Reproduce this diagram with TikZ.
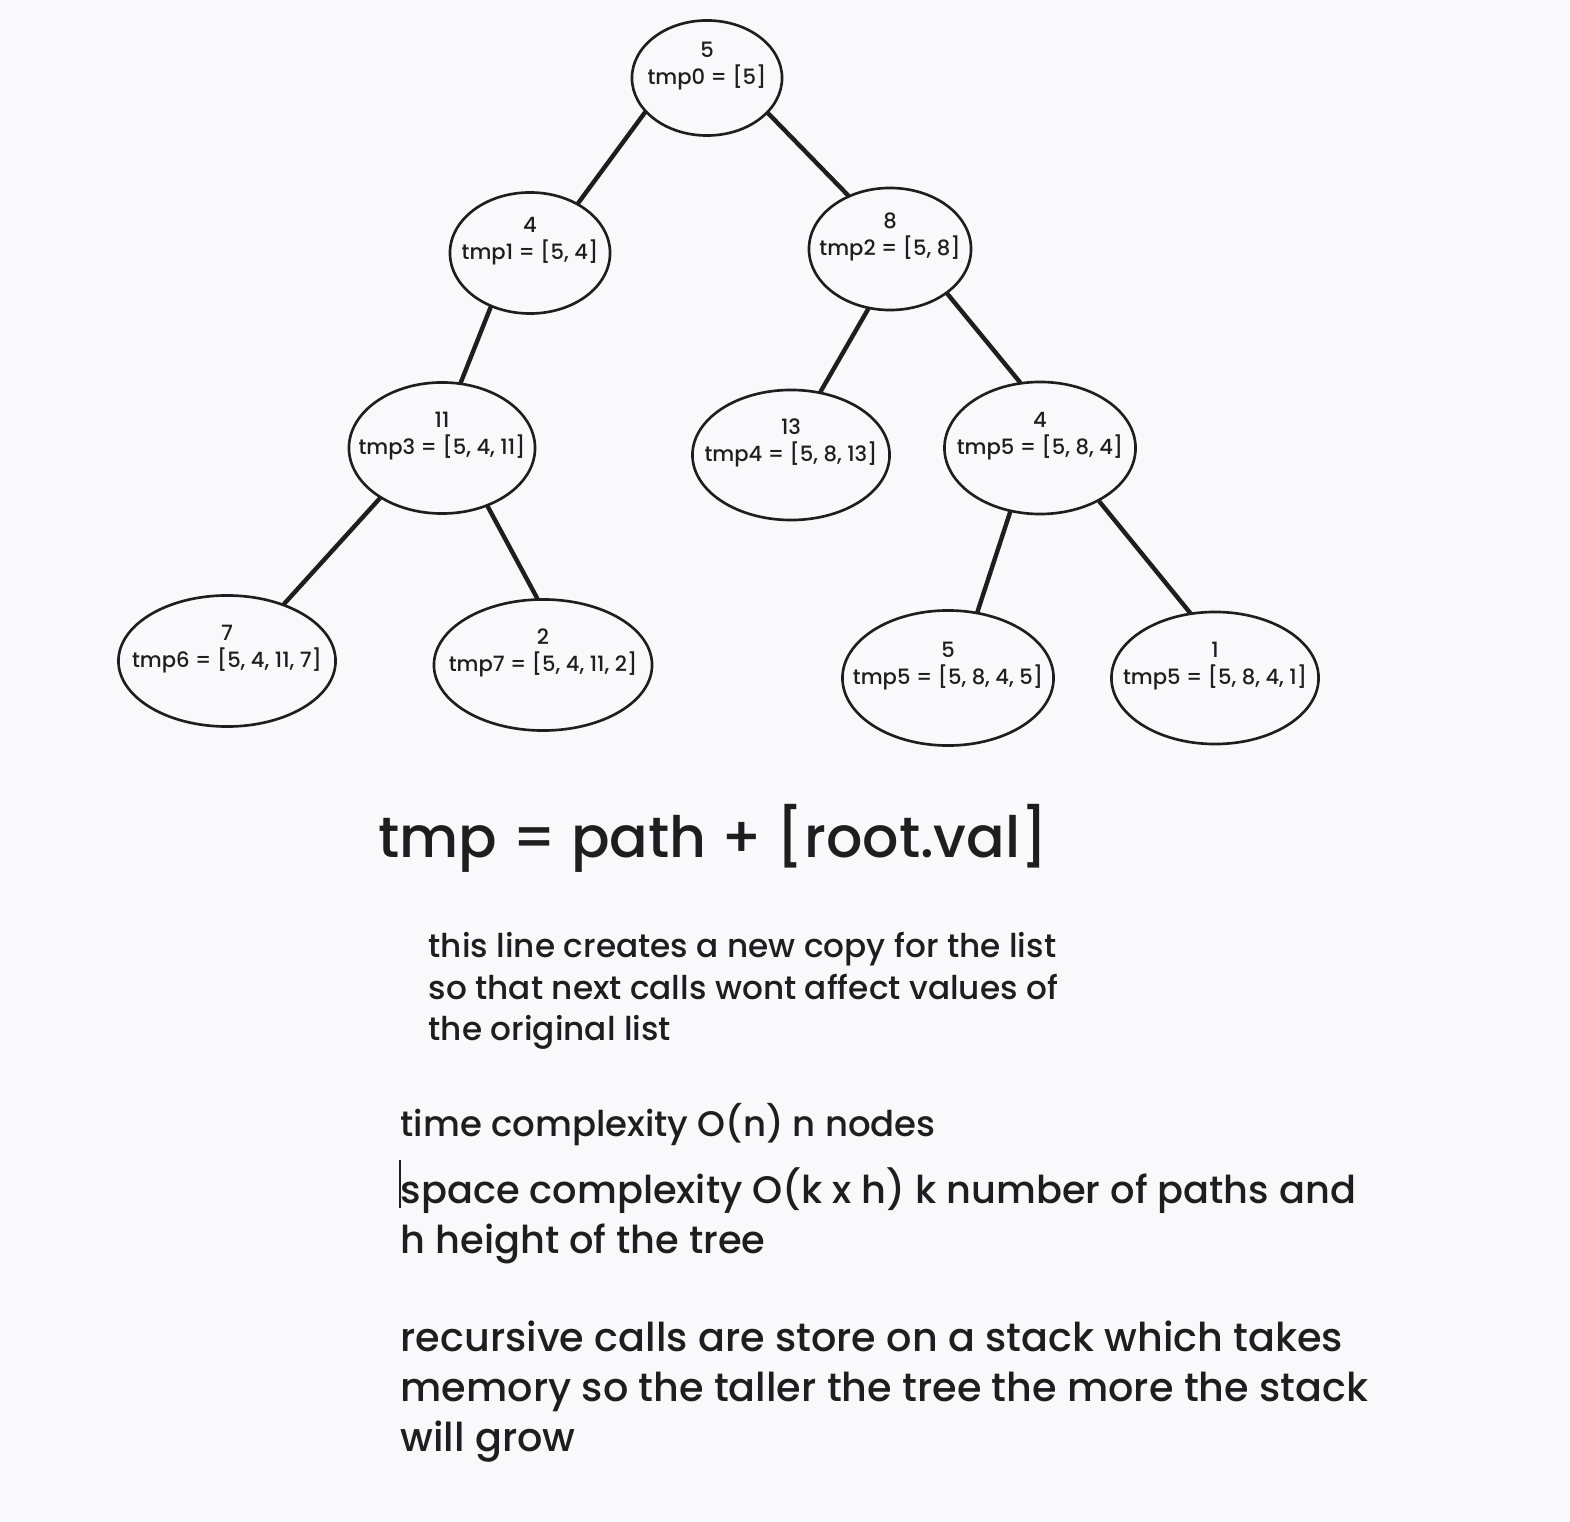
\documentclass[tikz,border=0pt]{standalone}
\usepackage{amsmath,amsfonts,graphicx,tikz}
\usepackage{fontspec}
\setmainfont{Poppins}[UprightFont=* Medium]
\usetikzlibrary{shapes.geometric}
\definecolor{ink}{RGB}{30,30,30}
\definecolor{paper}{RGB}{249,249,251}

\begin{document}
\begin{tikzpicture}[x=0.01cm,y=-0.01cm]
\tikzstyle{every node}=[text=ink];
\tikzstyle{call}=[ellipse,draw=ink,line width=0.75pt,inner sep=0pt];
\tikzstyle{val}=[align=center,yshift=0.12cm,font=\fontsize{6}{7.8}\selectfont];
\tikzstyle{link}=[draw=ink,line width=1.25pt,line cap=round];
\fill[paper] (0,0) rectangle (1570,1522);
\useasboundingbox (0,0) rectangle (1570,1522);
\node (T0) [call,minimum width=1.50cm,minimum height=1.15cm,label={[val]center:5\\tmp0 = [5]}] at (707,78) {};
\node (T1) [call,minimum width=1.60cm,minimum height=1.21cm,label={[val]center:4\\tmp1 = [5, 4]}] at (530,253) {};
\node (T2) [call,minimum width=1.62cm,minimum height=1.22cm,label={[val]center:8\\tmp2 = [5, 8]}] at (890,249) {};
\node (T3) [call,minimum width=1.86cm,minimum height=1.31cm,label={[val]center:11\\tmp3 = [5, 4, 11]}] at (442,448) {};
\node (T4) [call,minimum width=1.97cm,minimum height=1.30cm,label={[val]center:13\\tmp4 = [5, 8, 13]}] at (791,455) {};
\node (T5) [call,minimum width=1.91cm,minimum height=1.32cm,label={[val]center:4\\tmp5 = [5, 8, 4]}] at (1040,448) {};
\node (T6) [call,minimum width=2.17cm,minimum height=1.31cm,label={[val]center:7\\tmp6 = [5, 4, 11, 7]}] at (227,661) {};
\node (T7) [call,minimum width=2.18cm,minimum height=1.31cm,label={[val]center:2\\tmp7 = [5, 4, 11, 2]}] at (543,665) {};
\node (T5a) [call,minimum width=2.11cm,minimum height=1.35cm,label={[val]center:5\\tmp5 = [5, 8, 4, 5]}] at (948,678) {};
\node (T5b) [call,minimum width=2.07cm,minimum height=1.32cm,label={[val]center:1\\tmp5 = [5, 8, 4, 1]}] at (1215,678) {};
\draw[link] (T0.209) -- (T1.46);
\draw[link] (T0.330) -- (T2.128);
\draw[link] (T1.234) -- (T3.74);
\draw[link] (T2.250) -- (T4.65);
\draw[link] (T2.322) -- (T5.107);
\draw[link] (T3.219) -- (T6.45);
\draw[link] (T3.308) -- (T7.95);
\draw[link] (T5.245) -- (T5a.66);
\draw[link] (T5.318) -- (T5b.111);
\node (EQ) [anchor=west,font=\fontsize{16.2}{20}\selectfont] at (366,838) {tmp = path + [root.val]};
\node (NOTE) [anchor=north west,align=left,inner sep=0pt,font=\fontsize{9.3}{11.7}\selectfont] at (428,932) {this line creates a new copy for the list\\so that next calls wont affect values of\\the original list};
\node (TIME) [anchor=north west,inner sep=0pt,font=\fontsize{10.1}{14.2}\selectfont] at (400,1103) {time complexity O(n) n nodes};
\node (SPACE) [anchor=north west,align=left,inner sep=0pt,font=\fontsize{10.9}{14.2}\selectfont] at (400,1167) {space complexity O(k x h) k number of paths and\\h height of the tree};
\node (REC) [anchor=north west,align=left,inner sep=0pt,font=\fontsize{11.3}{14.2}\selectfont] at (400,1320) {recursive calls are store on a stack which takes\\memory so the taller the tree the more the stack\\will grow};
\draw[ink,line width=0.3pt] (400,1160) -- (400,1208);
\end{tikzpicture}
\end{document}
